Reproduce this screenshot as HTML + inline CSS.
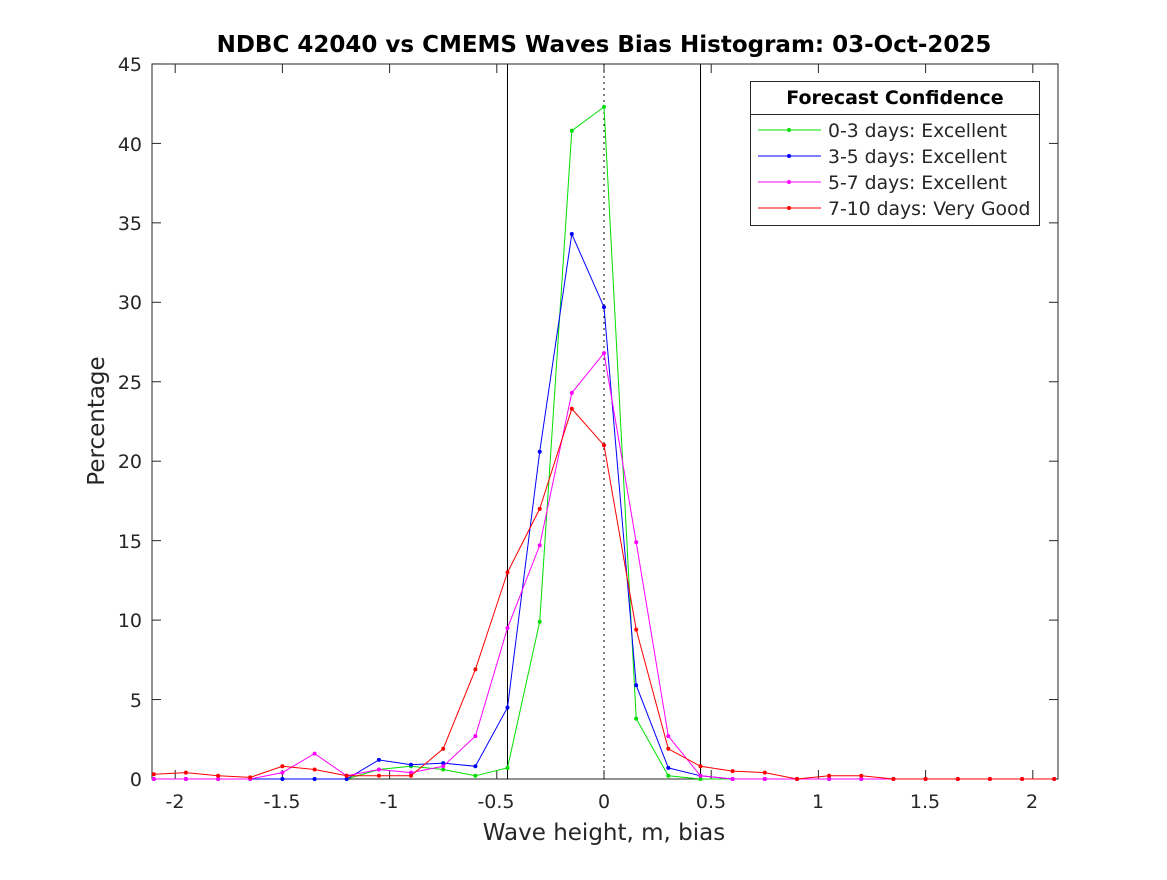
<!DOCTYPE html>
<html><head><meta charset="utf-8"><style>
body{margin:0;background:#fff}
svg text{font-family:"DejaVu Sans","Liberation Sans",sans-serif;fill:#262626}
</style></head><body>
<svg id="s" width="1167" height="875" xmlns="http://www.w3.org/2000/svg">
<rect x="0" y="0" width="1167" height="875" fill="#fff"/>
<rect x="152" y="64" width="906" height="715" fill="#fff" stroke="#262626" stroke-width="1"/>
<g id="ticks" stroke="#262626" stroke-width="1"></g>
<line x1="507.5" y1="64" x2="507.5" y2="779" stroke="#000" stroke-width="1"/>
<line x1="700.5" y1="64" x2="700.5" y2="779" stroke="#000" stroke-width="1"/>
<line x1="604" y1="64" x2="604" y2="779" stroke="#000" stroke-width="1" stroke-dasharray="2,4"/>
<g id="series"></g>
<g font-size="19" text-anchor="end">
<text x="142" y="786">0</text><text x="142" y="707">5</text><text x="142" y="627">10</text>
<text x="142" y="548">15</text><text x="142" y="468">20</text><text x="142" y="389">25</text>
<text x="142" y="309">30</text><text x="142" y="230">35</text><text x="142" y="151">40</text>
<text x="142" y="71">45</text>
</g>
<g font-size="19" text-anchor="middle">
<text x="175" y="808">-2</text><text x="282" y="808">-1.5</text><text x="389" y="808">-1</text>
<text x="496" y="808">-0.5</text><text x="604" y="808">0</text><text x="711" y="808">0.5</text>
<text x="818" y="808">1</text><text x="925" y="808">1.5</text><text x="1032" y="808">2</text>
</g>
<text x="604" y="840" font-size="23" text-anchor="middle">Wave height, m, bias</text>
<text x="104" y="421" font-size="23" text-anchor="middle" transform="rotate(-90 104 421)">Percentage</text>
<text x="604" y="52" font-size="23" font-weight="bold" text-anchor="middle" style="fill:#000">NDBC 42040 vs CMEMS Waves Bias Histogram: 03-Oct-2025</text>
<rect x="750.5" y="81.5" width="289" height="144" fill="#fff" stroke="#262626"/>
<line x1="750.5" y1="114.5" x2="1039.5" y2="114.5" stroke="#262626"/>
<text x="895" y="104" font-size="19" font-weight="bold" text-anchor="middle" style="fill:#000">Forecast Confidence</text>
<g id="leg"></g>
<g font-size="18.8">
<text x="828" y="137">0-3 days: Excellent</text>
<text x="828" y="163">3-5 days: Excellent</text>
<text x="828" y="189">5-7 days: Excellent</text>
<text x="828" y="215">7-10 days: Very Good</text>
</g>
</svg>
<script>
var X=v=>604+v*214.4, Y=v=>779-v*15.89;
var t=document.getElementById('ticks'),h='';
for(var v=-2;v<=2.001;v+=0.5){var x=X(v);h+=`<line x1="${x}" y1="779" x2="${x}" y2="770"/><line x1="${x}" y1="64" x2="${x}" y2="73"/>`;}
for(var v=0;v<=45;v+=5){var y=Y(v);h+=`<line x1="152" y1="${y}" x2="161" y2="${y}"/><line x1="1058" y1="${y}" x2="1049" y2="${y}"/>`;}
t.innerHTML=h;
var z=n=>Array(n).fill(0);
var D=[
["#00e000",[0,0,0,0,0,0,0,0.6,0.8,0.6,0.2,0.7,9.9,40.8,42.3,3.8,0.2,0].concat(z(11))],
["#0000ff",[0,0,0,0,0,0,0,1.2,0.9,1.0,0.8,4.5,20.6,34.3,29.7,5.9,0.7,0.2].concat(z(11))],
["#ff00ff",[0,0,0,0,0.4,1.6,0.2,0.6,0.4,0.8,2.7,9.5,14.7,24.3,26.8,14.9,2.7,0.2].concat(z(11))],
["#ff0000",[0.3,0.4,0.2,0.1,0.8,0.6,0.2,0.2,0.2,1.9,6.9,13.0,17.0,23.3,21.0,9.4,1.9,0.8,0.5,0.4,0,0.2,0.2,0,0,0,0,0,0]]];
var s='',l='';
D.forEach((d,k)=>{var p=d[1].map((v,i)=>X(-2.1+0.15*i).toFixed(1)+','+Y(v).toFixed(1));
s+=`<polyline points="${p.join(' ')}" fill="none" stroke="${d[0]}" stroke-width="1"/>`;
p.forEach(q=>{var a=q.split(',');s+=`<circle cx="${a[0]}" cy="${a[1]}" r="2" fill="${d[0]}"/>`;});
var y=130+26*k;l+=`<line x1="758" y1="${y}" x2="821" y2="${y}" stroke="${d[0]}"/><circle cx="789" cy="${y}" r="2" fill="${d[0]}"/>`;});
document.getElementById('series').innerHTML=s;document.getElementById('leg').innerHTML=l;
</script>
</body></html>
